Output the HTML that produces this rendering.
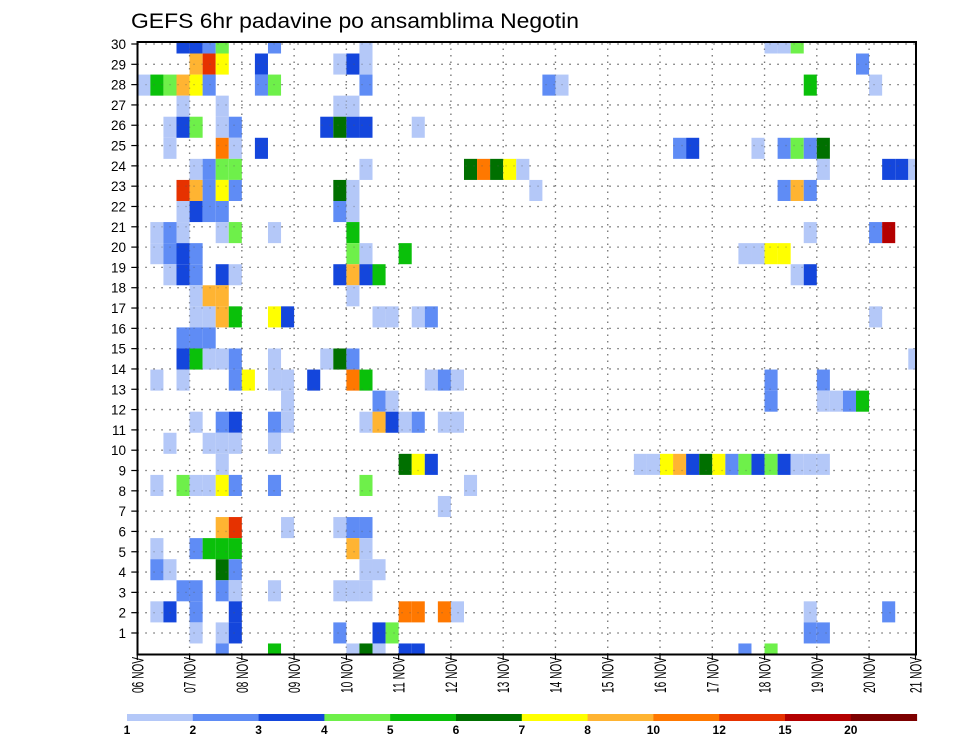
<!DOCTYPE html>
<html><head><meta charset="utf-8"><style>
html,body{margin:0;padding:0;background:#fff;}
svg{display:block;font-family:"Liberation Sans",sans-serif;}
</style></head>
<body>
<svg id="chart" width="960" height="742" viewBox="0 0 960 742" xmlns="http://www.w3.org/2000/svg">
<rect x="0" y="0" width="960" height="742" fill="#fff"/>
<text x="131" y="28" font-size="21" textLength="448" lengthAdjust="spacingAndGlyphs" fill="#000">GEFS 6hr padavine po ansamblima Negotin</text>
<g id="grid"></g>
<g id="cells"></g>
<g id="gridTop"></g>
<rect x="137.5" y="42" width="778.5" height="612.5" fill="none" stroke="#000" stroke-width="2"/>
<g id="yaxis"></g>
<g id="xaxis"></g>
<g id="legend"></g>
</svg>
<script>
const dayLabels = ["06 NOV","07 NOV","08 NOV","09 NOV","10 NOV","11 NOV","12 NOV","13 NOV","14 NOV","15 NOV","16 NOV","17 NOV","18 NOV","19 NOV","20 NOV","21 NOV"];
const memberLabels = [1,2,3,4,5,6,7,8,9,10,11,12,13,14,15,16,17,18,19,20,21,22,23,24,25,26,27,28,29,30];
const levelBounds = [1,2,3,4,5,6,7,8,10,12,15,20];
const levelColors = ["#b4c8f8","#5f8cf5","#1446dc","#6ef04a","#0ac00a","#007000","#ffff00","#ffb432","#ff7800","#e63200","#b40000","#7d0000"];
const legendLabels = ["1","2","3","4","5","6","7","8","10","12","15","20"];
// [member slot, 6-hour step, precipitation mm]
const cells = [
[29,3,3.5],[29,4,3.5],[29,5,2.5],[29,6,4.5],[29,10,2.5],[29,17,1.5],[29,48,1.5],[29,49,1.5],[29,50,4.5],
[28,4,9],[28,5,13.5],[28,6,7.5],[28,9,3.5],[28,15,1.5],[28,16,3.5],[28,17,1.5],[28,55,2.5],
[27,0,1.5],[27,1,5.5],[27,2,4.5],[27,3,9],[27,4,7.5],[27,5,2.5],[27,9,2.5],[27,10,4.5],[27,17,2.5],[27,31,2.5],[27,32,1.5],[27,51,5.5],[27,56,1.5],
[26,3,1.5],[26,6,1.5],[26,15,1.5],[26,16,1.5],
[25,2,1.5],[25,3,3.5],[25,4,4.5],[25,6,1.5],[25,7,2.5],[25,14,3.5],[25,15,6.5],[25,16,3.5],[25,17,3.5],[25,21,1.5],
[24,2,1.5],[24,6,11],[24,7,1.5],[24,9,3.5],[24,41,2.5],[24,42,3.5],[24,47,1.5],[24,49,2.5],[24,50,4.5],[24,51,2.5],[24,52,6.5],
[23,4,1.5],[23,5,2.5],[23,6,4.5],[23,7,4.5],[23,17,1.5],[23,25,6.5],[23,26,11],[23,27,6.5],[23,28,7.5],[23,29,1.5],[23,52,1.5],[23,57,3.5],[23,58,3.5],[23,59,1.5],
[22,3,13.5],[22,4,9],[22,5,2.5],[22,6,7.5],[22,7,2.5],[22,15,6.5],[22,16,1.5],[22,30,1.5],[22,49,2.5],[22,50,9],[22,51,2.5],
[21,3,1.5],[21,4,3.5],[21,5,2.5],[21,6,2.5],[21,15,2.5],[21,16,1.5],
[20,1,1.5],[20,2,2.5],[20,3,1.5],[20,6,1.5],[20,7,4.5],[20,10,1.5],[20,16,5.5],[20,51,1.5],[20,56,2.5],[20,57,17],
[19,1,1.5],[19,2,2.5],[19,3,3.5],[19,4,2.5],[19,16,4.5],[19,17,1.5],[19,20,5.5],[19,46,1.5],[19,47,1.5],[19,48,7.5],[19,49,7.5],
[18,2,1.5],[18,3,3.5],[18,4,2.5],[18,6,3.5],[18,7,1.5],[18,15,3.5],[18,16,9],[18,17,3.5],[18,18,5.5],[18,50,1.5],[18,51,3.5],
[17,4,1.5],[17,5,9],[17,6,9],[17,16,1.5],
[16,4,1.5],[16,5,1.5],[16,6,9],[16,7,5.5],[16,10,7.5],[16,11,3.5],[16,18,1.5],[16,19,1.5],[16,21,1.5],[16,22,2.5],[16,56,1.5],
[15,3,2.5],[15,4,2.5],[15,5,2.5],
[14,3,3.5],[14,4,5.5],[14,5,1.5],[14,6,1.5],[14,7,2.5],[14,10,1.5],[14,14,1.5],[14,15,6.5],[14,16,2.5],[14,59,1.5],
[13,1,1.5],[13,3,1.5],[13,7,2.5],[13,8,7.5],[13,10,1.5],[13,11,1.5],[13,13,3.5],[13,16,11],[13,17,5.5],[13,22,1.5],[13,23,2.5],[13,24,1.5],[13,48,2.5],[13,52,2.5],
[12,11,1.5],[12,18,2.5],[12,19,1.5],[12,48,2.5],[12,52,1.5],[12,53,1.5],[12,54,2.5],[12,55,5.5],
[11,4,1.5],[11,6,2.5],[11,7,3.5],[11,10,2.5],[11,11,1.5],[11,17,1.5],[11,18,9],[11,19,3.5],[11,20,1.5],[11,21,2.5],[11,23,1.5],[11,24,1.5],
[10,2,1.5],[10,5,1.5],[10,6,1.5],[10,7,1.5],[10,10,1.5],
[9,6,1.5],[9,20,6.5],[9,21,7.5],[9,22,3.5],[9,38,1.5],[9,39,1.5],[9,40,7.5],[9,41,9],[9,42,3.5],[9,43,6.5],[9,44,7.5],[9,45,2.5],[9,46,4.5],[9,47,3.5],[9,48,4.5],[9,49,3.5],[9,50,1.5],[9,51,1.5],[9,52,1.5],
[8,1,1.5],[8,3,4.5],[8,4,1.5],[8,5,1.5],[8,6,7.5],[8,7,2.5],[8,10,2.5],[8,17,4.5],[8,25,1.5],
[7,23,1.5],
[6,6,9],[6,7,13.5],[6,11,1.5],[6,15,1.5],[6,16,2.5],[6,17,2.5],
[5,1,1.5],[5,4,2.5],[5,5,5.5],[5,6,5.5],[5,7,5.5],[5,16,9],[5,17,1.5],
[4,1,2.5],[4,2,1.5],[4,6,6.5],[4,7,2.5],[4,17,1.5],[4,18,1.5],
[3,3,2.5],[3,4,2.5],[3,6,2.5],[3,7,1.5],[3,10,1.5],[3,15,1.5],[3,16,1.5],[3,17,1.5],
[2,1,1.5],[2,2,3.5],[2,4,2.5],[2,7,3.5],[2,20,11],[2,21,11],[2,23,11],[2,24,1.5],[2,51,1.5],[2,57,2.5],
[1,4,1.5],[1,6,1.5],[1,7,3.5],[1,15,2.5],[1,18,3.5],[1,19,4.5],[1,51,2.5],[1,52,2.5],
[0,6,2.5],[0,10,5.5],[0,16,1.5],[0,17,6.5],[0,18,1.5],[0,20,3.5],[0,21,3.5],[0,46,2.5],[0,48,4.5]
];

const NS = "http://www.w3.org/2000/svg";
const PL = 137.3, PR = 916, PT = 42, PB = 655;
const DAY_W = 52.27, STEP_W = DAY_W / 4, SLOT_H = 21.07;
function xStep(c){ return PL + c * STEP_W; }
function xDay(d){ return PL + d * DAY_W; }
function ySlot(s){ return 654 - s * SLOT_H; }
function yMember(m){ return 653.3 - m * 20.31; }
function colorFor(v){
  let idx = -1;
  for (let i = 0; i < levelBounds.length; i++) if (v >= levelBounds[i]) idx = i;
  return idx < 0 ? null : levelColors[idx];
}
function mk(tag, attrs, parent){
  const el = document.createElementNS(NS, tag);
  for (const k in attrs) el.setAttribute(k, attrs[k]);
  parent.appendChild(el);
  return el;
}
const grid = document.getElementById('grid');
const gridTop = document.getElementById('gridTop');
const cellsG = document.getElementById('cells');
const yaxis = document.getElementById('yaxis');
const xaxis = document.getElementById('xaxis');
const legend = document.getElementById('legend');

[grid, gridTop].forEach(function(g, gi){
  memberLabels.forEach(function(m){
    const y = yMember(m);
    const ln = mk('line', {x1: PL, x2: PR, y1: y, y2: y, stroke: gi ? 'rgba(90,90,90,0.35)' : '#888', 'stroke-width': 1.3, 'stroke-dasharray': '1.5 6.5'}, g);
    
    
  });
  dayLabels.forEach(function(d, i){
    const x = xDay(i);
    if (x <= PL + 1 || x >= PR) return;
    const ln = mk('line', {x1: x, x2: x, y1: PT, y2: PB, stroke: gi ? 'rgba(90,90,90,0.35)' : '#888', 'stroke-width': 1.3, 'stroke-dasharray': '1.5 5'}, g);
    
    
  });
});

cells.forEach(function(c){
  const col = colorFor(c[2]);
  if (!col) return;
  let x0 = xStep(c[1]), x1 = xStep(c[1] + 1);
  let y0 = ySlot(c[0]) - SLOT_H / 2, y1 = ySlot(c[0]) + SLOT_H / 2;
  x0 = Math.max(x0, PL); x1 = Math.min(x1, PR);
  y0 = Math.max(y0, PT); y1 = Math.min(y1, PB);
  const r = mk('rect', {x: x0, y: y0, width: x1 - x0, height: y1 - y0, fill: col}, cellsG);
  
  
});

memberLabels.forEach(function(m){
  const y = yMember(m);
  const t = mk('line', {x1: PL - 6, x2: PL, y1: y, y2: y, stroke: '#000', 'stroke-width': 1.2}, yaxis);
  
  
  const tx = mk('text', {x: 126, y: y + 5, 'font-size': 13.5, 'text-anchor': 'end', fill: '#000'}, yaxis);
  tx.textContent = m;
  
  
});

dayLabels.forEach(function(d, i){
  const x = Math.min(xDay(i), 915.5);
  const t = mk('line', {x1: x, x2: x, y1: PB, y2: PB + 5, stroke: '#000', 'stroke-width': 1.2}, xaxis);
  
  
  const tx = mk('text', {x: 0, y: 0, 'font-size': 17, 'text-anchor': 'end', textLength: 36, lengthAdjust: 'spacingAndGlyphs', fill: '#000', transform: 'translate(' + (x + 6) + ',' + 657 + ') rotate(-90)'}, xaxis);
  tx.textContent = d;
  
  
});

const LG_X = 127, LG_W = 65.8;
levelColors.forEach(function(col, i){
  const r = mk('rect', {x: LG_X + i * LG_W, y: 714, width: LG_W + 0.5, height: 7, fill: col}, legend);
  
  
  const tx = mk('text', {x: LG_X + i * LG_W, y: 734, 'font-size': 12, 'font-weight': 'bold', 'text-anchor': 'middle', fill: '#000'}, legend);
  tx.textContent = legendLabels[i];
  
  
});
</script>
</body></html>
